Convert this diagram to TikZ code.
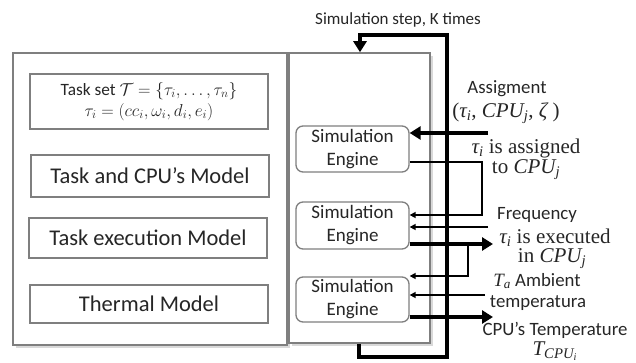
\documentclass[tikz,border=0pt]{standalone}
\usepackage[no-math]{fontspec}
\setmainfont{Carlito}
\newfontfamily\cam{Liberation Serif}
\newcommand\mv[1]{{\itshape #1}}
\newcommand\sbi[1]{\textsubscript{\itshape #1}}
\usetikzlibrary{arrows.meta,shadows}
\definecolor{txt}{HTML}{262626}
\definecolor{edge}{HTML}{7F7F7F}
\tikzset{
  panel/.style={draw=edge, line width=1.6pt, inner sep=0pt, fill=white,
     drop shadow={shadow xshift=2.5pt, shadow yshift=-2.5pt, opacity=0.3, fill=gray}},
  modelbox/.style={draw=edge, line width=1.3pt, inner sep=0pt, text=txt, align=center},
  engine/.style={draw=edge, line width=1.3pt, rounded corners=7pt, inner sep=0pt, text=txt, align=center,
     font=\fontsize{19}{23}\selectfont, minimum width=113pt},
  lbl/.style={text=txt, inner sep=0pt, font=\fontsize{18.8}{21}\selectfont},
  mlbl/.style={text=txt, inner sep=0pt, font=\cam\fontsize{21}{23}\selectfont},
  thickarr/.style={line width=3.3pt, -{Triangle[length=11pt,width=13pt]}},
  thinarr/.style={line width=1.5pt, -{Triangle[length=6pt,width=6pt]}},
}
\begin{document}
\begin{tikzpicture}[x=1pt,y=-1pt]
\useasboundingbox (0,0) rectangle (636,362);
% panels
\node[panel, minimum width=274pt, minimum height=292pt] (left) at (150,199) {};
\node[panel, minimum width=141pt, minimum height=290pt] (mid) at (359.5,198) {};
% model boxes
\node[modelbox, minimum width=238pt, minimum height=55pt, font=\fontsize{17.28}{21}\selectfont] (ts) at (149,101.5)
  {Task set $\mathcal{T}=\{\tau_i,\ldots,\tau_n\}$\\ $\tau_i=(cc_i,\omega_i,d_i,e_i)$};
\node[modelbox, minimum width=238pt, minimum height=42pt, font=\fontsize{22.5}{26}\selectfont] (m1) at (150,176) {Task and CPU’s Model};
\node[modelbox, minimum width=238pt, minimum height=40pt, font=\fontsize{22.5}{26}\selectfont] (m2) at (148,238) {Task execution Model};
\node[modelbox, minimum width=238pt, minimum height=38pt, font=\fontsize{22.5}{26}\selectfont] (m3) at (149,304) {Thermal Model};
% engines
\node[engine, minimum height=46pt] (e1) at (352.5,149) {Simulation\\Engine};
\node[engine, minimum height=47pt] (e2) at (352.5,225.5) {Simulation\\Engine};
\node[engine, minimum height=45pt] (e3) at (352.5,299.5) {Simulation\\Engine};
% coordinates
\coordinate (a1) at (488,133);
\coordinate (j1) at (482,162);
\coordinate (j2) at (482,215);
\coordinate (f1) at (488,227);
\coordinate (x1) at (493,244);
\coordinate (b1) at (468,244);
\coordinate (b2) at (468,276);
\coordinate (t1) at (485,295);
\coordinate (c1) at (493,317);
\coordinate (l1) at (359,357);
\coordinate (l2) at (447,357);
\coordinate (l3) at (447,35);
\coordinate (l4) at (360,35);
% thin connectors
\draw[thinarr] (e1.east |- j1) -- (j1) -- (j2) -- (e2.east |- j2);
\draw[thinarr] (f1) -- (e2.east |- f1);
\draw[thinarr] (b1) -- (b2) -- (e3.east |- b2);
\draw[thinarr] (t1) -- (e3.east |- t1);
% thick connectors
\draw[thickarr] (a1) -- (e1.east |- a1);
\draw[thickarr] (e2.east |- x1) -- (x1);
\draw[thickarr] (e3.east |- c1) -- (c1);
\draw[thickarr] (mid.south -| l1) -- (l1) -- (l2) -- (l3) -- (l4) -- (l4 |- mid.north);
% labels
\node[lbl, font=\fontsize{17}{20}\selectfont] (sim) at (398,20) {Simulation step, K times};
\node[lbl] (as1) at (507,89) {Assigment};
\node[mlbl] (as2) at (506,113) {(\mv{τ}\sbi{i}, \mv{CPU}\sbi{j}, \mv{ζ} )};
\node[mlbl] (ia1) at (526,148) {\mv{τ}\sbi{i} is assigned};
\node[mlbl] (ia2) at (526,170) {to \mv{CPU}\sbi{j}};
\node[lbl] (fr) at (537,215) {Frequency};
\node[mlbl] (ex1) at (555,238) {\mv{τ}\sbi{i} is executed};
\node[mlbl] (ex2) at (552,259) {in \mv{CPU}\sbi{j}};
\node[lbl] (am1) at (537,281) {{\cam\mv{T}\sbi{a}} Ambient};
\node[lbl] (am2) at (538,303) {temperatura};
\node[lbl] (ct1) at (555,330) {CPU’s Temperature};
\node[mlbl] (ct2) at (555,351) {\mv{T}\textsubscript{\itshape CPU\textsubscript{i}}};
\end{tikzpicture}
\end{document}
